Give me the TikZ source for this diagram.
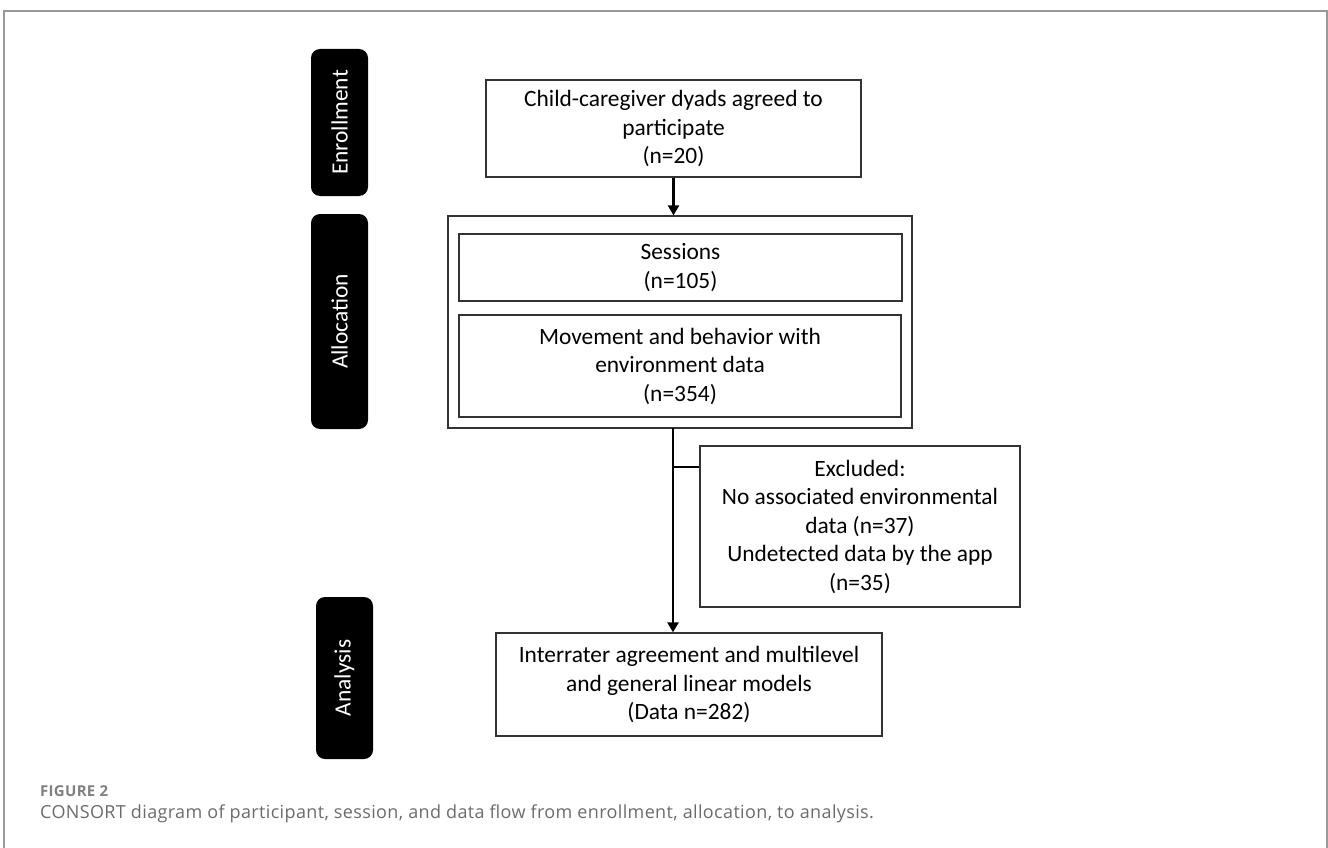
\documentclass[tikz,border=0pt]{standalone}
\usepackage{fontspec}
\setmainfont{Carlito}
\newfontfamily\capfont[LetterSpace=2]{Open Sans}
\usetikzlibrary{arrows.meta}

\begin{document}
\begin{tikzpicture}[x=1pt,y=-1pt,
  box/.style={draw=black!80,line width=1.3pt,align=center,inner sep=0pt,
    font=\fontsize{23.4}{28.5}\selectfont},
  stage/.style={fill=black,rounded corners=9pt,rotate=90,text=white,
    minimum height=57pt,inner sep=0pt,font=\fontsize{23.4}{28.5}\selectfont},
  flow/.style={line width=2.5pt,-{Triangle[length=10pt,width=11pt]}}]
\useasboundingbox (0,0) rectangle (1328,848);
\draw[black!40,line width=1.5pt] (4,848)--(4,11)--(1327,11)--(1327,848);

% stage tabs
\node[stage,minimum width=147pt] (enr) at (339.5,122.5) {Enrollment};
\node[stage,minimum width=215pt] (all) at (339.5,321.5) {Allocation};
\node[stage,minimum width=162pt] (ana) at (344.5,678) {Analysis};

% boxes
\node[box,minimum width=375pt,minimum height=97pt] (dyads) at (673.5,128.5)
  {Child-caregiver dyads agreed to\\participate\\(n=20)};
\node[box,minimum width=464pt,minimum height=212pt] (alloc) at (680,322) {};
\node[box,minimum width=443pt,minimum height=67pt] (sess) at (680.5,267.5)
  {Sessions\\(n=105)};
\node[box,minimum width=442pt,minimum height=102pt] (move) at (680,366)
  {Movement and behavior with\\environment data\\(n=354)};
\node[box,minimum width=320pt,minimum height=161pt] (excl) at (860,526.5)
  {Excluded:\\No associated environmental\\data (n=37)\\Undetected data by the app\\(n=35)};
\node[box,minimum width=386pt,minimum height=103pt] (models) at (689,684.5)
  {Interrater agreement and multilevel\\and general linear models\\(Data n=282)};

% arrows
\draw[flow] (dyads.south) -- (dyads.south |- alloc.north);
\coordinate (trunk) at (673,428);
\coordinate (br) at (673,467);
\draw[flow] (trunk) -- (trunk |- models.north);
\draw[line width=2.5pt] (br) -- (br -| excl.west);

% caption
\node[anchor=base west,inner sep=0pt,text=black!50,
  font=\capfont\bfseries\fontsize{15}{17}\selectfont] (fig) at (40,796) {FIGURE 2};
\node[anchor=base west,inner sep=0pt,text=black!58,
  font=\capfont\fontsize{18}{21}\selectfont] (cap) at (40,818)
  {CONSORT diagram of participant, session, and data flow from enrollment, allocation, to analysis.};
\end{tikzpicture}
\end{document}
